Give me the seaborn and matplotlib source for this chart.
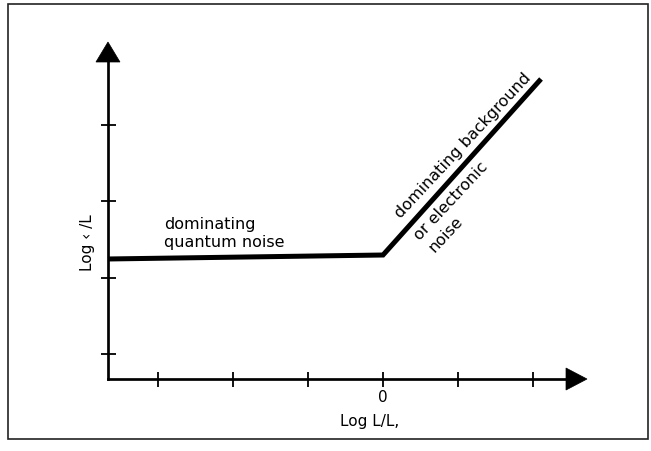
import matplotlib
matplotlib.use("Agg")
import matplotlib.pyplot as plt
from matplotlib.patches import Polygon, Rectangle
import numpy as np
import pandas as pd
import seaborn as sns

# Noise regime curve (log-log units, kink at log L/L = 0)
log_l = [-3.667, 0.0, 2.107]
log_noise = [2.242, 2.294, 4.595]

# Axis ticks and labels
x_ticks = [-3, -2, -1, 0, 1, 2]
x_tick_labels = ["", "", "", "0", "", ""]
y_ticks = [1, 2, 3, 4]

x_axis_label = "Log L/L,"
y_axis_label = "Log \u2039 /L"
flat_lines = ["dominating", "quantum noise"]
slope_lines = ["dominating background", "or electronic", "noise"]

# Axis geometry in data units
x_origin, y_origin = -3.667, 0.673
x_arrow_base, x_arrow_tip = 2.44, 2.72
y_arrow_base, y_arrow_tip = 4.817, 5.078

sns.set_theme(style="white")
plt.rcParams["font.family"] = ["DejaVu Sans"]
plt.rcParams["text.color"] = "black"
plt.rcParams["axes.labelcolor"] = "black"
plt.rcParams["xtick.color"] = "black"
plt.rcParams["ytick.color"] = "black"

W, H = 651, 452
fig = plt.figure(figsize=(W / 100, H / 100), dpi=100)
ax = fig.add_axes([0, 0, 1, 1])
ax.set_facecolor("none")

df = pd.DataFrame({"log_l": log_l, "log_noise": log_noise})
sns.lineplot(data=df, x="log_l", y="log_noise", color="black", linewidth=3.6,
             sort=False, estimator=None, ax=ax, solid_joinstyle="miter",
             solid_capstyle="butt")

ax.set_xlim(-383 / 75, (W - 383) / 75)
ax.set_ylim(1 - (H - 355) / 76.5, 1 + 355 / 76.5)

for side in ("top", "right"):
    ax.spines[side].set_visible(False)
ax.spines["left"].set_position(("data", x_origin))
ax.spines["bottom"].set_position(("data", y_origin))
ax.spines["left"].set_bounds(y_origin, y_arrow_base)
ax.spines["bottom"].set_bounds(x_origin, x_arrow_base)
for side in ("left", "bottom"):
    ax.spines[side].set_color("black")
    ax.spines[side].set_linewidth(1.95)

ax.set_xticks(x_ticks)
ax.set_xticklabels(x_tick_labels)
ax.set_yticks(y_ticks)
ax.set_yticklabels([])
ax.tick_params(axis="both", direction="inout", length=10.8, width=1.3,
               color="black", labelcolor="black", labelsize=11, pad=2.0,
               left=True, bottom=True)

# Arrow heads at the ends of the axes
dx_half = 12 / 75
dy_half = 11 / 76.5
ax.add_patch(Polygon([[x_origin - dx_half, y_arrow_base],
                      [x_origin + dx_half, y_arrow_base],
                      [x_origin, y_arrow_tip]], closed=True,
                     fc="black", ec="black", lw=0.5, clip_on=False))
ax.add_patch(Polygon([[x_arrow_base, y_origin - dy_half],
                      [x_arrow_base, y_origin + dy_half],
                      [x_arrow_tip, y_origin]], closed=True,
                     fc="black", ec="black", lw=0.5, clip_on=False))

ax.set_xlabel(x_axis_label, fontsize=11, color="black")
ax.set_ylabel(y_axis_label, fontsize=11, color="black")
ax.xaxis.set_label_coords(370 / W, 1 - 414 / H)
ax.yaxis.set_label_coords(95 / W, 1 - 243 / H)

# Label for the flat (quantum-limited) part
for (tx, ty), line in zip([(-2.92, 2.647), (-2.92, 2.412)], flat_lines):
    ax.text(tx, ty, line, fontsize=11.5, ha="left", va="baseline",
            color="black")

# Label running along the sloped part, split by the line itself
slope_anchors = [(0.24, 2.778), (0.50, 2.486), (0.69, 2.33)]
for (tx, ty), line in zip(slope_anchors, slope_lines):
    ax.text(tx, ty, line, fontsize=11.5, ha="left", va="baseline",
            rotation=47, rotation_mode="anchor", color="black")

# Outer frame
fig.add_artist(Rectangle((8 / W, 1 - 440 / H), 640 / W, 435 / H,
                         transform=fig.transFigure, fill=False,
                         lw=1.2, ec="#222222"))

fig.savefig("out.png", dpi=100)
